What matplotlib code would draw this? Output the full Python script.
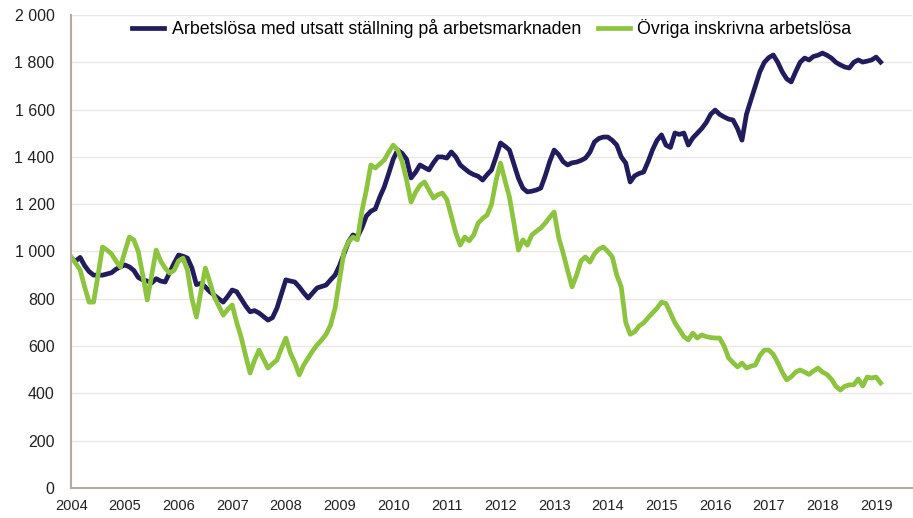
import matplotlib
matplotlib.use("Agg")
import matplotlib.pyplot as plt
import matplotlib.ticker as mticker
import numpy as np

plt.rcParams['font.family'] = ['Liberation Sans', 'DejaVu Sans']

# Monthly series, thousands of persons, from January 2004
start_year = 2004
utsatt = [
    970, 960, 975, 940, 915, 900, 900, 900, 905, 910, 925, 935,
    943, 935, 920, 890, 880, 875, 867, 885, 875, 871, 910, 950,
    985, 980, 972, 930, 860, 865, 850, 830, 815, 800, 786, 810,
    837, 830, 800, 770, 745, 750, 740, 725, 710, 720, 760, 820,
    880, 875, 871, 850, 825, 803, 825, 846, 852, 858, 880, 900,
    940, 990, 1040, 1070, 1061, 1100, 1150, 1170, 1180, 1230, 1273, 1330,
    1390, 1429, 1415, 1390, 1311, 1335, 1366, 1355, 1345, 1375, 1400, 1400,
    1395, 1421, 1400, 1366, 1350, 1335, 1325, 1318, 1302, 1325, 1345, 1400,
    1459, 1445, 1429, 1370, 1310, 1268, 1252, 1255, 1260, 1268, 1320, 1380,
    1429, 1410, 1380, 1366, 1375, 1378, 1385, 1395, 1420, 1463, 1478, 1484,
    1484, 1470, 1450, 1400, 1374, 1294, 1320, 1330, 1336, 1380, 1430, 1470,
    1493, 1450, 1440, 1501, 1495, 1501, 1450, 1480, 1500, 1520, 1545, 1580,
    1598, 1580, 1569, 1560, 1556, 1520, 1471, 1580, 1641, 1700, 1760, 1800,
    1820, 1831, 1800, 1760, 1730, 1717, 1760, 1800, 1818, 1810, 1825, 1830,
    1839, 1830, 1818, 1800, 1789, 1780, 1776, 1800, 1810, 1801, 1805, 1810,
    1822, 1801,
]
ovriga = [
    977, 950, 922, 850, 786, 786, 900, 1019, 1006, 990, 960, 934,
    1000, 1061, 1049, 1000, 900, 795, 900, 1006, 960, 930, 909, 920,
    960, 972, 920, 800, 723, 830, 930, 870, 808, 770, 731, 755,
    774, 700, 638, 560, 486, 540, 583, 545, 507, 525, 541, 590,
    634, 571, 530, 478, 520, 550, 580, 605, 626, 650, 689, 760,
    880, 1000, 1040, 1061, 1049, 1170, 1260, 1366, 1353, 1370, 1387, 1420,
    1450, 1429, 1380, 1302, 1209, 1250, 1280, 1294, 1260, 1226, 1240, 1247,
    1220, 1150, 1078, 1027, 1061, 1045, 1070, 1120, 1140, 1154, 1200, 1300,
    1374, 1300, 1230, 1120, 1006, 1049, 1027, 1070, 1085, 1099, 1120, 1145,
    1167, 1060, 994, 920, 850, 900, 960, 977, 955, 990, 1010, 1019,
    1000, 977, 900, 850, 700, 650, 660, 685, 698, 720, 740, 760,
    786, 780, 740, 698, 670, 640, 626, 655, 634, 647, 640, 636,
    634, 634, 600, 550, 530, 512, 528, 507, 515, 520, 560, 583,
    583, 565, 530, 490, 457, 470, 490, 499, 490, 480, 495, 507,
    490, 480, 460, 430, 414, 430, 436, 436, 461, 431, 469, 465,
    469, 444,
]
years = list(range(2004, 2020))
labels = ["Arbetslösa med utsatt ställning på arbetsmarknaden",
          "Övriga inskrivna arbetslösa"]

t = start_year + np.arange(len(utsatt)) / 12

fig = plt.figure(figsize=(9.13, 5.18), dpi=100)
ax = fig.add_axes([0.078, 0.058, 0.921, 0.913])

ax.plot(t, utsatt, color="#211d5c", lw=3.4, label=labels[0], solid_joinstyle="round")
ax.plot(t, ovriga, color="#8cc43f", lw=3.4, label=labels[1], solid_joinstyle="round")

ax.set_xlim(2004, 2019.67)
ax.set_ylim(0, 2000)
ax.set_xticks(years)
ax.set_yticks(range(0, 2001, 200))
ax.yaxis.set_major_formatter(mticker.FuncFormatter(lambda v, p: f"{int(v):,}".replace(",", " ")))
ax.tick_params(length=0, colors="#222222")
ax.tick_params(axis="x", pad=8, labelsize=10.5)
ax.tick_params(axis="y", pad=12, labelsize=11.5)

ax.grid(axis="y", color="#ebe8e4", lw=1)
ax.set_axisbelow(True)
for side in ["top", "right"]:
    ax.spines[side].set_visible(False)
for side in ["left", "bottom"]:
    ax.spines[side].set_color("#b3aaa0")
    ax.spines[side].set_linewidth(1.5)

ax.legend(loc="upper center", bbox_to_anchor=(0.50, 1.025), ncol=2, frameon=False,
          fontsize=12.8, handlelength=1.8, columnspacing=0.95, handletextpad=0.4)

fig.savefig("out.png", dpi=100)
